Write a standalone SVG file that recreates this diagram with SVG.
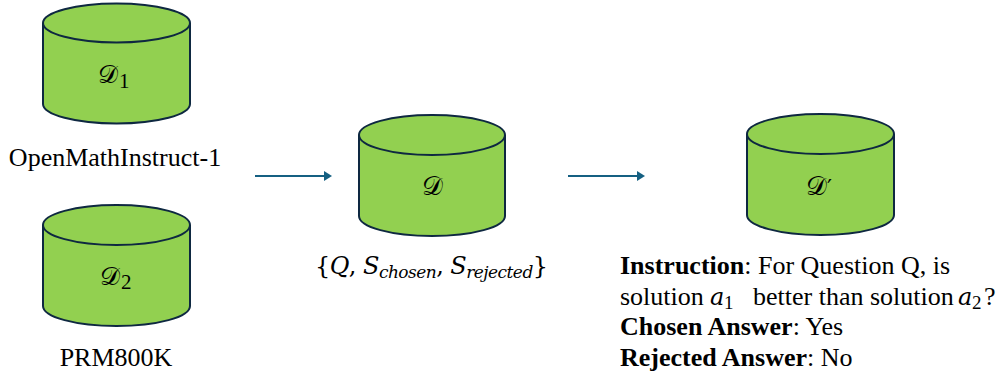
<svg xmlns="http://www.w3.org/2000/svg" width="1005" height="379" viewBox="0 0 1005 379">
<style>
.cyl{fill:#92d050;stroke:#0e2841;stroke-width:2}
.conn{stroke:#156082;stroke-width:2.2;fill:none}
.head{fill:#156082}
text{fill:#000}
.t{font-family:'Liberation Serif','Times New Roman',serif;font-size:26px}
.m{font-family:'DejaVu Serif',serif}
</style>
<rect width="1005" height="379" fill="#fff"/>
<g id="connectors">
<line class="conn" x1="255" y1="176" x2="325" y2="176"/>
<polygon class="head" points="324,171 332,176 324,181"/>
<line class="conn" x1="568" y1="176" x2="638" y2="176"/>
<polygon class="head" points="637,171 645,176 637,181"/>
</g>
<g id="D1">
<path class="cyl" d="M43,23 V104 A73.5,19.5 0 0 0 190,104 V23"/>
<ellipse class="cyl" cx="116.5" cy="23" rx="73.5" ry="19.5"/>
<text class="m" x="98" y="83" font-size="25">𝒟<tspan class="t" dx="1" y="88" style="font-size:21px">1</tspan></text>
<text class="t" x="115" y="166" text-anchor="middle">OpenMathInstruct-1</text>
</g>
<g id="D2">
<path class="cyl" d="M43,225 V306 A73.5,20 0 0 0 190,306 V225"/>
<ellipse class="cyl" cx="116.5" cy="225" rx="73.5" ry="20"/>
<text class="m" x="100" y="285" font-size="25">𝒟<tspan class="t" dx="1" y="289" style="font-size:21px">2</tspan></text>
<text class="t" x="116" y="366" text-anchor="middle">PRM800K</text>
</g>
<g id="D">
<path class="cyl" d="M359,135 V216 A73,20 0 0 0 505,216 V135"/>
<ellipse class="cyl" cx="432" cy="135" rx="73" ry="20"/>
<text class="m" x="422" y="195" font-size="26">𝒟</text>
<text class="m" x="315" y="274" font-style="italic" font-size="24" textLength="233" lengthAdjust="spacing"><tspan font-style="normal">{</tspan>Q<tspan font-style="normal">, </tspan>S<tspan font-size="17" dy="4">chosen</tspan><tspan font-style="normal" dy="-4">, </tspan>S<tspan font-size="17" dy="4">rejected</tspan><tspan font-style="normal" dy="-4">}</tspan></text>
</g>
<g id="Dprime">
<path class="cyl" d="M747,134 V215 A73.5,20 0 0 0 894,215 V134"/>
<ellipse class="cyl" cx="820.5" cy="134" rx="73.5" ry="20"/>
<text class="m" x="806" y="195" font-size="26">𝒟<tspan font-family="DejaVu Sans, sans-serif" font-size="22">′</tspan></text>
<text class="t" x="620" y="274"><tspan font-weight="bold">Instruction</tspan>: For Question Q, is</text>
<text class="t" x="620" y="304.5">solution <tspan class="m" x="710" font-style="italic" style="font-size:24px">a</tspan><tspan x="724" y="309" style="font-size:19px">1</tspan><tspan x="753" y="304.5">better than solution</tspan><tspan class="m" x="958" font-style="italic" style="font-size:24px">a</tspan><tspan x="972" y="309" style="font-size:19px">2</tspan><tspan x="984" y="304.5">?</tspan></text>
<text class="t" x="620" y="335"><tspan font-weight="bold">Chosen Answer</tspan>: Yes</text>
<text class="t" x="620" y="365.5"><tspan font-weight="bold">Rejected Answer</tspan>: No</text>
</g>
</svg>
